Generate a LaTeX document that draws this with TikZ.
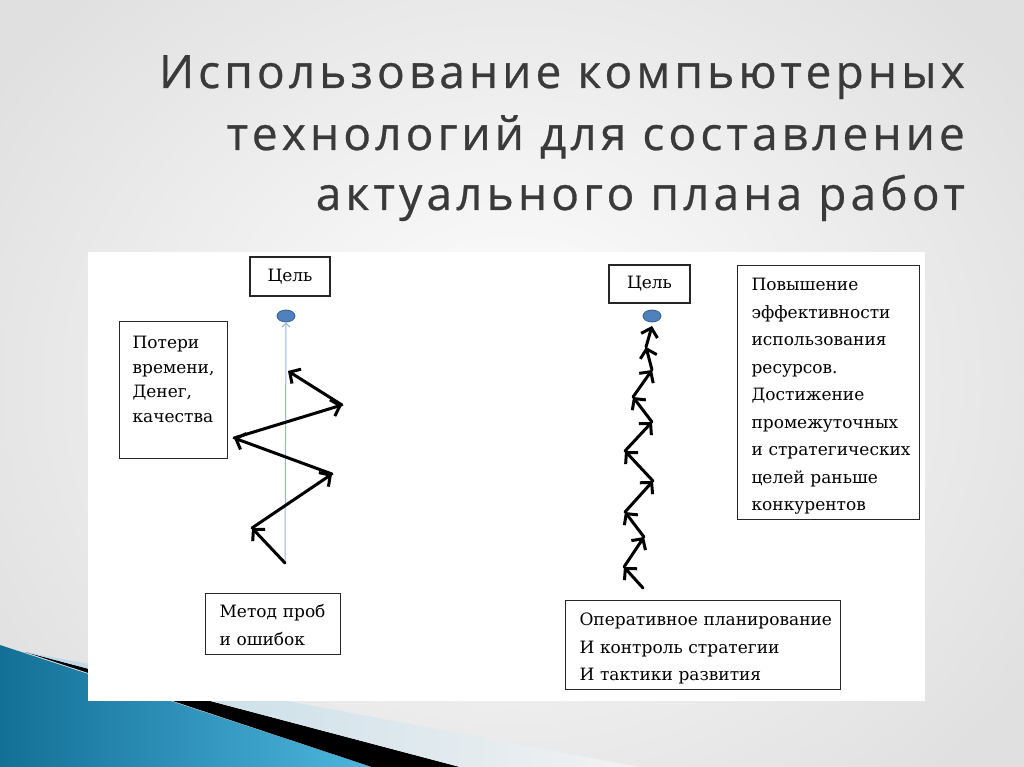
\documentclass[tikz,border=0pt]{standalone}
\usepackage{fontspec}
\setmainfont{DejaVu Serif}
\newfontfamily\titlefont[LetterSpace=9,FakeBold=0.6]{Open Sans}
\usetikzlibrary{arrows.meta,shapes.geometric,positioning}

\definecolor{titlegray}{HTML}{3A3A3A}
\definecolor{dotblue}{HTML}{4F81BD}
\definecolor{dotedge}{HTML}{385D8A}
\definecolor{axisblue}{HTML}{95B3D7}
\definecolor{tealdark}{HTML}{136F96}
\definecolor{teallight}{HTML}{4DB6DE}
\definecolor{paleblue}{HTML}{BCD8E6}

\tikzset{
  box/.style={draw=black!85, line width=1.1pt, fill=white, anchor=north west,
    align=left, text height=13pt, font=\fontsize{17}{27.5}\selectfont},
  goalbox/.style={draw=black!85, line width=1.1pt, fill=white,
    font=\fontsize{17}{20}\selectfont},
  goaldot/.style={ellipse, draw=dotedge, fill=dotblue, line width=0.8pt,
    minimum width=18pt, minimum height=12pt, inner sep=0pt},
  zig/.style={draw=black, line width=3pt, line cap=round,
    -{Straight Barb[length=8pt,width=17pt,line width=3pt]}},
  titleline/.style={anchor=base east, inner sep=0pt, text=titlegray,
    font=\titlefont\fontsize{46}{52}\selectfont},
}

\begin{document}
\begin{tikzpicture}[x=1pt,y=-1pt]
% slide background
\useasboundingbox (0,0) rectangle (1024,767);
\shade[inner color=white, outer color=gray!24] (-100,-150) rectangle (1124,917);

% corner wedges
\shade[left color=tealdark, right color=teallight] (0,645) -- (372,767) -- (0,767) -- cycle;
\fill[black] (25,652) -- (460,767) -- (372,767) -- cycle;
\shade[left color=paleblue, right color=gray!10] (25,652) -- (640,767) -- (460,767) -- cycle;

% title
\node[titleline] (title1) at (965,88) {Использование компьютерных};
\node[titleline] (title2) at (965,150) {технологий для составление};
\node[titleline] (title3) at (965,210) {актуального плана работ};

% white sheet
\fill[white] (88,252) rectangle (925,701);

% left scheme
\node[goalbox, minimum width=80pt, minimum height=39pt] (goalL) at (290,276.5) {Цель};
\node[goaldot] (dotL) at (286,316) {};
\node[box, font=\fontsize{17}{24.5}\selectfont, text width=82pt, inner xsep=13pt,
  inner ysep=14pt, text depth=96pt] (loss) at (119,321)
  {Потери\\времени,\\Денег,\\качества};
\node[box, text width=107pt, inner xsep=14pt, inner ysep=11pt, text depth=26pt]
  (trial) at (205,593) {Метод~проб\\и~ошибок};

\coordinate (axisL) at (285,563);
\draw[axisblue, line width=1pt, -{Straight Barb[length=4pt,width=8pt]}] (axisL) -- (dotL.south);

\path (285,563) coordinate (zL0)
      (252,528) coordinate (zL1)
      (332,474) coordinate (zL2)
      (234,438) coordinate (zL3)
      (342,405) coordinate (zL4)
      (288,371) coordinate (zL5);
\foreach \a/\b in {0/1,1/2,2/3,3/4,4/5}
  \draw[zig] (zL\a) -- (zL\b);

% right scheme
\node[goalbox, minimum width=81pt, minimum height=38pt] (goalR) at (649.5,284) {Цель};
\node[goaldot] (dotR) at (652,316) {};
\node[box, text width=154pt, inner xsep=14pt, inner ysep=12pt, text depth=217pt]
  (gain) at (737,265)
  {Повышение\\эффективности\\использования\\ресурсов.\\Достижение\\промежуточных\\и~стратегических\\целей~раньше\\конкурентов};
\node[box, text width=247pt, inner xsep=14pt, inner ysep=12pt, text depth=52pt]
  (plan) at (565,600)
  {Оперативное~планирование\\И~контроль~стратегии\\И~тактики~развития};

\path (643,588) coordinate (zR0)
      (624,567) coordinate (zR1)
      (644,537) coordinate (zR2)
      (625,512) coordinate (zR3)
      (653,481) coordinate (zR4)
      (625,451) coordinate (zR5)
      (652,422) coordinate (zR6)
      (633,397) coordinate (zR7)
      (652,370) coordinate (zR8)
      (646,347) coordinate (zR9)
      (652,326) coordinate (zR10);
\foreach \a/\b in {0/1,1/2,2/3,3/4,4/5,5/6,6/7,7/8,8/9,9/10}
  \draw[zig] (zR\a) -- (zR\b);

\end{tikzpicture}
\end{document}
